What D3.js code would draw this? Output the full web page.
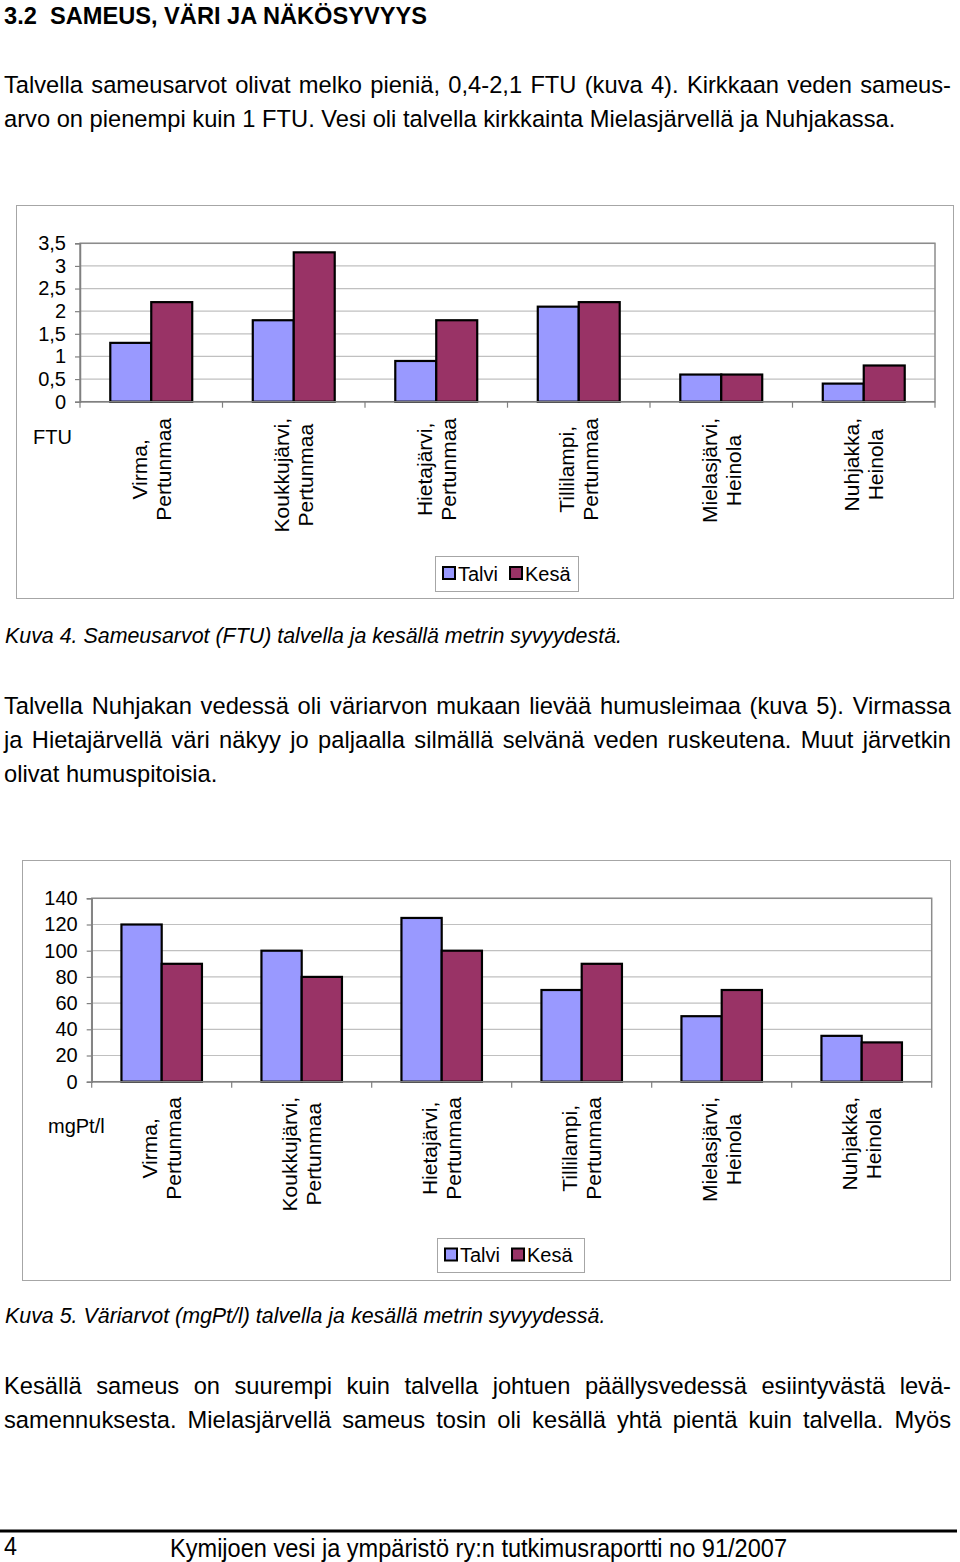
<!DOCTYPE html>
<html><head><meta charset="utf-8">
<script src="https://cdn.jsdelivr.net/npm/d3@7/dist/d3.min.js"></script>
<style>
html,body{margin:0;padding:0;background:#fff;}
svg{display:block;}
</style></head>
<body>
<svg id="page" width="960" height="1562"></svg>
<script>
// ---------- DATA ----------
const categories = [
  ["Virma,", "Pertunmaa"],
  ["Koukkujärvi,", "Pertunmaa"],
  ["Hietajärvi,", "Pertunmaa"],
  ["Tillilampi,", "Pertunmaa"],
  ["Mielasjärvi,", "Heinola"],
  ["Nuhjakka,", "Heinola"]
];
const seriesNames = ["Talvi", "Kesä"];
const seriesColors = ["#9999FF", "#993366"];

const ftuTalvi = [1.3, 1.8, 0.9, 2.1, 0.6, 0.4];
const ftuKesa  = [2.2, 3.3, 1.8, 2.2, 0.6, 0.8];
const ftuTicks = [0, 0.5, 1, 1.5, 2, 2.5, 3, 3.5];

const colorTalvi = [120, 100, 125, 70, 50, 35];
const colorKesa  = [90, 80, 100, 90, 70, 30];
const colorTicks = [0, 20, 40, 60, 80, 100, 120, 140];

const heading = "3.2  SAMEUS, VÄRI JA NÄKÖSYVYYS";
const para1 = [
  "Talvella sameusarvot olivat melko pieniä, 0,4-2,1 FTU (kuva 4). Kirkkaan veden sameus-",
  "arvo on pienempi kuin 1 FTU. Vesi oli talvella kirkkainta Mielasjärvellä ja Nuhjakassa."
];
const caption1 = "Kuva 4. Sameusarvot (FTU) talvella ja kesällä metrin syvyydestä.";
const para2 = [
  "Talvella Nuhjakan vedessä oli väriarvon mukaan lievää humusleimaa (kuva 5). Virmassa",
  "ja Hietajärvellä väri näkyy jo paljaalla silmällä selvänä veden ruskeutena. Muut järvetkin",
  "olivat humuspitoisia."
];
const caption2 = "Kuva 5. Väriarvot (mgPt/l) talvella ja kesällä metrin syvyydessä.";
const para3 = [
  "Kesällä sameus on suurempi kuin talvella johtuen päällysvedessä esiintyvästä levä-",
  "samennuksesta. Mielasjärvellä sameus tosin oli kesällä yhtä pientä kuin talvella. Myös"
];
const footerPage = "4";
const footerText = "Kymijoen vesi ja ympäristö ry:n tutkimusraportti no 91/2007";

// ---------- DRAW ----------
const svg = d3.select("#page");
const FONT = "'Liberation Sans', Arial, sans-serif";
const BODY = 23.7;

function textLine(str, x, y, opts = {}) {
  const t = svg.append("text")
    .attr("x", x).attr("y", y)
    .attr("font-family", opts.family || FONT)
    .attr("font-size", opts.size || BODY)
    .attr("font-weight", opts.weight || "normal")
    .attr("font-style", opts.style || "normal")
    .attr("fill", "#000")
    .attr("xml:space", "preserve")
    .text(str);
  if (opts.justify) {
    const natural = t.node().getComputedTextLength();
    const spaces = (str.match(/ /g) || []).length;
    if (spaces > 0) t.attr("word-spacing", (opts.justify - natural) / spaces);
  }
  if (opts.squeeze) {
    t.attr("textLength", opts.squeeze).attr("lengthAdjust", "spacingAndGlyphs");
  }
  return t;
}

function paragraph(lines, x, y0) {
  lines.forEach((l, i) => textLine(l, x, y0 + i * 34, {justify: i < lines.length - 1 ? 947 : null}));
}

// Heading & text
textLine(heading, 4, 24, {size: 23.5, weight: "bold", squeeze: 423});
paragraph(para1, 4, 93);
textLine(caption1, 5, 643, {size: 21.4, style: "italic"});
paragraph(para2, 4, 714);
textLine(caption2, 5, 1323, {size: 21.4, style: "italic"});
para3.forEach((l, i) => textLine(l, 4, 1394 + i * 34, {justify: 947}));

// footer
svg.append("line").attr("x1", 0).attr("x2", 957).attr("y1", 1531).attr("y2", 1531)
  .attr("stroke", "#000").attr("stroke-width", 3);
textLine(footerPage, 4, 1555, {size: 26, squeeze: 13});
textLine(footerText, 170, 1557, {size: 26, squeeze: 617});

function drawChart(cfg) {
  const g = svg.append("g");
  // frame
  g.append("rect").attr("x", cfg.frame[0] + 0.5).attr("y", cfg.frame[1] + 0.5)
    .attr("width", cfg.frame[2] - cfg.frame[0]).attr("height", cfg.frame[3] - cfg.frame[1])
    .attr("fill", "#fff").attr("stroke", "#a6a6a6").attr("stroke-width", 1);

  const idx = d3.range(categories.length);
  const x = d3.scaleBand().domain(idx).range([cfg.x0, cfg.x1])
    .paddingInner(0.425).paddingOuter(0.2125);
  const xs = d3.scaleBand().domain([0, 1]).range([0, x.bandwidth()]);
  const y = d3.scaleLinear().domain([0, cfg.max]).range([cfg.yBot, cfg.yTop]);

  // gridlines
  g.append("g").selectAll("line").data(cfg.ticks.filter(t => t > 0)).join("line")
    .attr("x1", cfg.x0).attr("x2", cfg.x1)
    .attr("y1", d => y(d)).attr("y2", d => y(d))
    .attr("stroke", "#c0c0c0").attr("stroke-width", 1.2);
  // plot border
  g.append("rect").attr("x", cfg.x0).attr("y", cfg.yTop)
    .attr("width", cfg.x1 - cfg.x0).attr("height", cfg.yBot - cfg.yTop)
    .attr("fill", "none").attr("stroke", "#8c8c8c").attr("stroke-width", 1.5);

  // bars
  const rows = idx.map(i => [cfg.s1[i], cfg.s2[i]]);
  g.append("g").selectAll("g").data(rows).join("g")
    .attr("transform", (d, i) => `translate(${x(i)},0)`)
    .selectAll("rect").data(d => d.map((v, k) => ({v, k}))).join("rect")
    .attr("x", d => xs(d.k)).attr("width", xs.bandwidth())
    .attr("y", d => y(d.v)).attr("height", d => cfg.yBot - y(d.v))
    .attr("fill", d => seriesColors[d.k])
    .attr("stroke", "#000").attr("stroke-width", 2.2);

  // y axis
  const yAxis = d3.axisLeft(y).tickValues(cfg.ticks).tickSize(5).tickPadding(9)
    .tickFormat(cfg.fmt);
  const ya = g.append("g").attr("transform", `translate(${cfg.x0},0)`).call(yAxis);
  ya.select(".domain").attr("stroke", "#808080").attr("stroke-width", 1.5);
  ya.selectAll(".tick line").attr("stroke", "#808080").attr("stroke-width", 1.2);
  ya.selectAll(".tick text").attr("font-family", FONT).attr("font-size", 20).attr("fill", "#000");

  // x axis (category boundary ticks)
  const bounds = d3.range(categories.length + 1).map(i => cfg.x0 + i * x.step());
  g.append("line").attr("x1", cfg.x0).attr("x2", cfg.x1).attr("y1", cfg.yBot).attr("y2", cfg.yBot)
    .attr("stroke", "#808080").attr("stroke-width", 1.5);
  g.append("g").selectAll("line").data(bounds).join("line")
    .attr("x1", d => d).attr("x2", d => d).attr("y1", cfg.yBot).attr("y2", cfg.yBot + 6)
    .attr("stroke", "#808080").attr("stroke-width", 1.2);

  // category labels (rotated, two lines)
  idx.forEach(i => {
    const cx = x(i) + x.bandwidth() / 2;
    const lines = categories[i];
    const lg = g.append("g");
    const texts = lines.map((s, k) => lg.append("text")
      .attr("font-family", FONT).attr("font-size", 21).attr("fill", "#000")
      .attr("text-anchor", "middle").attr("dominant-baseline", "central").text(s));
    const maxLen = d3.max(texts, t => t.node().getComputedTextLength());
    const yc = cfg.labelTop + maxLen / 2;
    texts.forEach((t, k) => {
      const lx = cx - 12 + 24 * k;
      t.attr("transform", `translate(${lx},${yc}) rotate(-90)`);
    });
  });

  // unit title
  g.append("text").attr("x", cfg.unitPos[0]).attr("y", cfg.unitPos[1])
    .attr("font-family", FONT).attr("font-size", 20).text(cfg.unit);

  // legend
  const L = cfg.legend;
  g.append("rect").attr("x", L[0] + 0.5).attr("y", L[1] + 0.5).attr("width", L[2]).attr("height", L[3])
    .attr("fill", "#fff").attr("stroke", "#a6a6a6");
  const items = g.append("g").attr("transform", `translate(${L[0] + 8},${L[1] + L[3] / 2})`);
  let off = 0;
  seriesNames.forEach((n, k) => {
    items.append("rect").attr("x", off).attr("y", -6.5).attr("width", 12).attr("height", 12)
      .attr("fill", seriesColors[k]).attr("stroke", "#000").attr("stroke-width", 2);
    const t = items.append("text").attr("x", off + 15).attr("y", 0)
      .attr("dominant-baseline", "central")
      .attr("font-family", FONT).attr("font-size", 20).text(n);
    off += 15 + t.node().getComputedTextLength() + 12;
  });
}

drawChart({
  frame: [16, 205, 953, 598],
  x0: 80, x1: 935, yTop: 243.3, yBot: 401.7, max: 3.5,
  ticks: ftuTicks, fmt: d => String(d).replace(".", ","),
  s1: ftuTalvi, s2: ftuKesa,
  labelTop: 418, unit: "FTU", unitPos: [33, 444],
  legend: [435, 556, 143, 35]
});

drawChart({
  frame: [22, 860, 950, 1280],
  x0: 91.7, x1: 931.7, yTop: 898.3, yBot: 1081.7, max: 140,
  ticks: colorTicks, fmt: d => String(d),
  s1: colorTalvi, s2: colorKesa,
  labelTop: 1097, unit: "mgPt/l", unitPos: [48, 1133],
  legend: [437, 1238, 147, 34]
});
</script>
</body></html>
